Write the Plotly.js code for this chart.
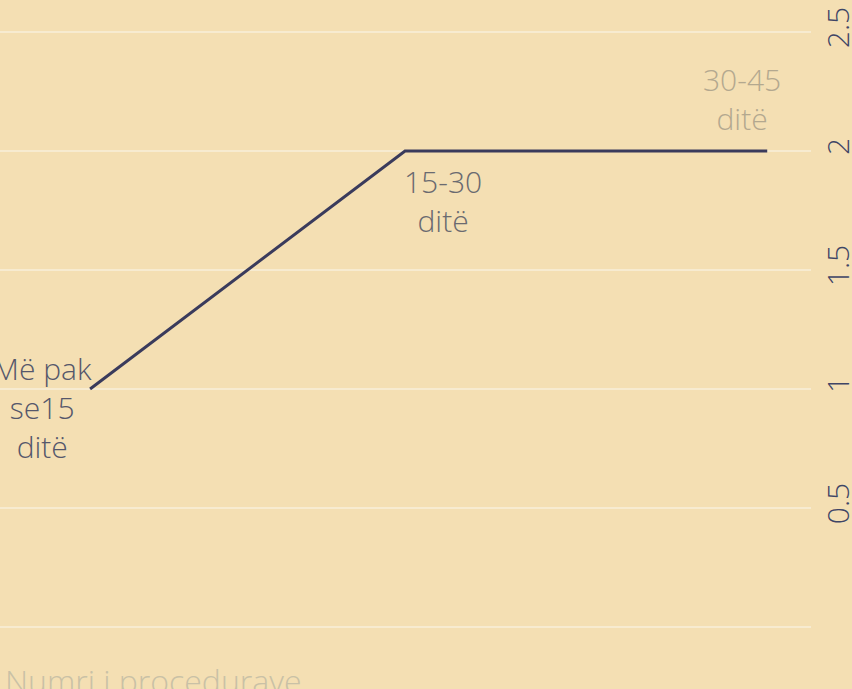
<!DOCTYPE html>
<html>
<head>
<meta charset="utf-8">
<script src="https://cdn.plot.ly/plotly-3.0.1.min.js"></script>
<style>html,body{margin:0;padding:0;background:#F4DFB3;overflow:hidden}</style>
</head>
<body>
<div id="chart" style="width:852px;height:689px"></div>
<script>
// Data
var categories = ["Më pak<br>se15<br>ditë", "15-30<br>ditë", "30-45<br>ditë"];
var xValues = [1, 2, 3.15];
var procedures = [1, 2, 2];
var yTicks = [0.5, 1, 1.5, 2, 2.5];
var yTickText = ["0.5", "1", "1.5", "2", "2.5"];
var axisTitle = "Numri i procedurave";

var FONT = "'Open Sans', 'Noto Sans', sans-serif";
var bg = "#F4DFB3";
var grid = "#F7EBD0";

var trace = {
  x: xValues,
  y: procedures,
  mode: "lines",
  line: {color: "#3A3B5C", width: 3},
  hoverinfo: "skip",
  showlegend: false
};

var labelColors = ["#55576B", "#6A6A70", "#B3A88F"];
var annotations = [
  {x: xValues[0], y: procedures[0], text: categories[0], xanchor: "right", yanchor: "middle", xshift: 4, yshift: -18, color: labelColors[0]},
  {x: xValues[1], y: procedures[1], text: categories[1], xanchor: "center", yanchor: "top", xshift: 38, yshift: -8, color: labelColors[1]},
  {x: xValues[2], y: procedures[2], text: categories[2], xanchor: "center", yanchor: "bottom", xshift: -25, yshift: 10, color: labelColors[2]}
].map(function(a){
  return {x: a.x, y: a.y, xref: "x", yref: "y", text: a.text, showarrow: false,
    xanchor: a.xanchor, yanchor: a.yanchor, xshift: a.xshift, yshift: a.yshift,
    align: "center", font: {family: FONT, size: 30, color: a.color, weight: 300}};
});
annotations.push({
  xref: "paper", yref: "paper", x: 0, y: 0, xanchor: "left", yanchor: "top",
  xshift: 3, yshift: -17, showarrow: false, text: axisTitle, align: "left",
  font: {family: FONT, size: 32, color: "#C9C1A6", weight: 300}
});

var layout = {
  width: 852, height: 689,
  paper_bgcolor: bg, plot_bgcolor: bg,
  margin: {l: 0, r: 41, t: 0, b: 49},
  font: {family: FONT},
  xaxis: {range: [0.714, 3.289], showgrid: false, zeroline: false, showticklabels: false, showline: false, ticks: ""},
  yaxis: {
    range: [-0.0546, 2.6345], side: "right",
    tickvals: yTicks, ticktext: yTickText, tickangle: -90,
    ticklabelstandoff: 7,
    showgrid: true, gridcolor: grid, gridwidth: 2.5,
    zeroline: true, zerolinecolor: grid, zerolinewidth: 2.5,
    showline: false, ticks: "",
    tickfont: {family: FONT, size: 30, color: "#3F4566", weight: 300}
  },
  annotations: annotations
};

Plotly.newPlot("chart", [trace], layout, {displayModeBar: false, staticPlot: true});
</script>
</body>
</html>
